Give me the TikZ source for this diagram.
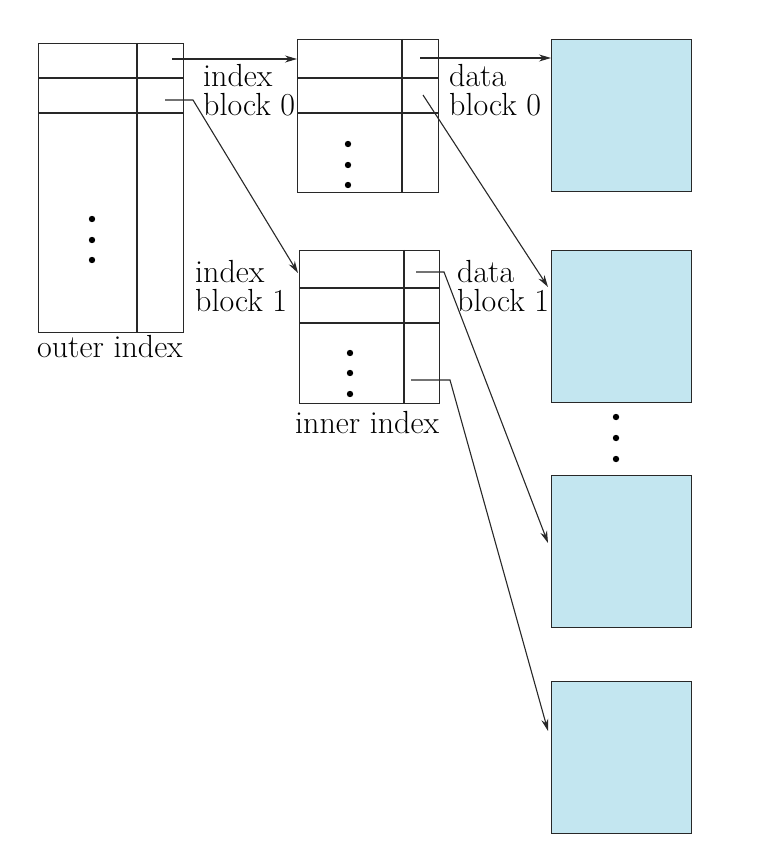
\documentclass[tikz,border=0pt]{standalone}
\usetikzlibrary{arrows.meta,calc}
\definecolor{datablue}{RGB}{195,230,240}
\definecolor{ink}{RGB}{40,40,40}
\tikzset{
  box/.style={draw=ink, line width=1.1pt, anchor=north west, inner sep=0pt, minimum width=#1},
  datab/.style={draw=ink, line width=1.3pt, fill=datablue, anchor=north west, inner sep=0pt, minimum width=140pt, minimum height=152pt},
  cell/.style={draw=ink, line width=1.1pt},
  arr/.style={draw=ink, line width=1.1pt, -{Stealth[length=12pt,width=7pt]}},
  lbl/.style={font=\fontsize{32}{29}\selectfont, text=black, align=left, anchor=base west, inner sep=0pt},
  dot/.style={fill=black}
}
\begin{document}
\begin{tikzpicture}[x=1pt,y=-1pt]
\useasboundingbox (0,0) rectangle (780,858);
% outer index
\node[box=145pt, minimum height=289pt] (outer) at (38,43) {};
\draw[cell] (137,43) -- (137,332);
\draw[cell] (38,78) -- (183,78);
\draw[cell] (38,113) -- (183,113);
\foreach \y in {219,240,260} \fill[dot] (92,\y) circle (3.2pt);
% index block 0
\node[box=141pt, minimum height=153pt] (ib0) at (297,39) {};
\draw[cell] (402,39) -- (402,192);
\draw[cell] (297,78) -- (438,78);
\draw[cell] (297,113) -- (438,113);
\foreach \y in {144,165,185} \fill[dot] (348,\y) circle (3.2pt);
% index block 1
\node[box=140pt, minimum height=153pt] (ib1) at (299,250) {};
\draw[cell] (404,250) -- (404,403);
\draw[cell] (299,288) -- (439,288);
\draw[cell] (299,323) -- (439,323);
\foreach \y in {353,373,394} \fill[dot] (350,\y) circle (3.2pt);
% data blocks
\node[datab] (db0) at (551,39) {};
\node[datab] (db1) at (551,250) {};
\node[datab] (db2) at (551,475) {};
\node[datab] (db3) at (551,681) {};
\foreach \y in {417,438,459} \fill[dot] (616,\y) circle (3.2pt);
% labels
\node[lbl] (l0) at (203,116) {index\\block 0};
\node[lbl] (l1) at (449,116) {data\\block 0};
\node[lbl] (l2) at (195,311) {index\\block 1};
\node[lbl] (l3) at (457,311) {data\\block 1};
\node[lbl] (l4) at (37,357) {outer index};
\node[lbl] (l5) at (295,433) {inner index};
% pointer starts
\coordinate (o0) at (172,59);
\coordinate (o1) at (165,100);
\coordinate (o1b) at (193,100);
\coordinate (i0) at (420,58);
\coordinate (i1) at (423,95);
\coordinate (n0) at (416,272);
\coordinate (n0b) at (444,272);
\coordinate (n1) at (411,380);
\coordinate (n1b) at (450,380);
% connectors
\draw[arr] (o0) -- (ib0.west |- o0);
\draw[arr] (o1) -- (o1b) -- ($(ib1.north west)+(-1,23)$);
\draw[arr] (i0) -- (db0.west |- i0);
\draw[arr] (i1) -- ($(db1.north west)+(-3,37)$);
\draw[arr] (n0) -- (n0b) -- ($(db2.north west)+(-3,68)$);
\draw[arr] (n1) -- (n1b) -- ($(db3.north west)+(-3,50)$);
\end{tikzpicture}
\end{document}
